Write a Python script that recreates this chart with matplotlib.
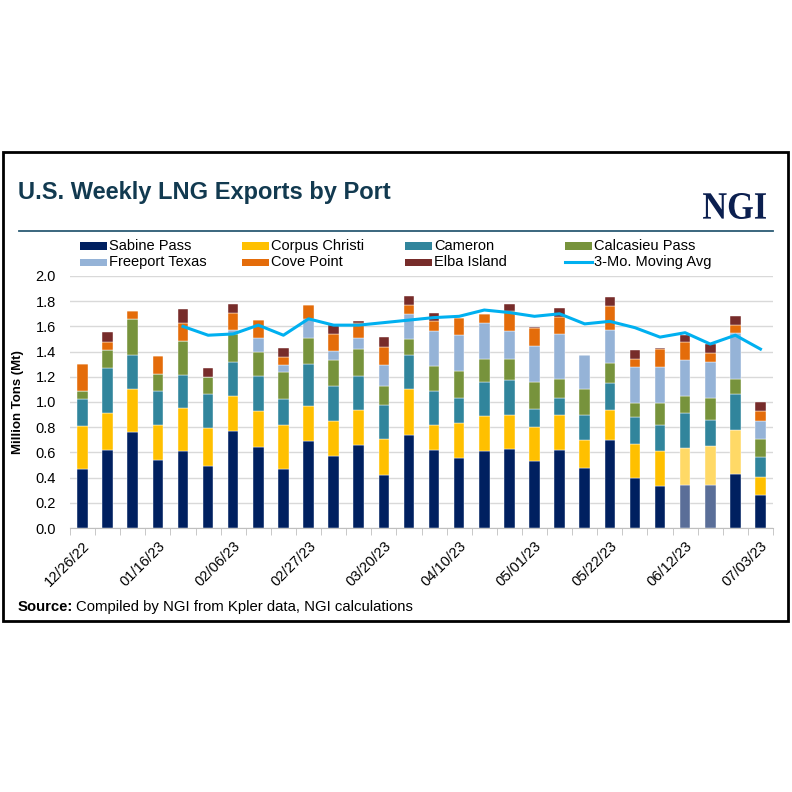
import matplotlib
import matplotlib.pyplot as plt
import numpy as np
import pandas as pd
from matplotlib.patches import Rectangle, PathPatch
from matplotlib.lines import Line2D
from matplotlib.textpath import TextPath
from matplotlib.font_manager import FontProperties
from matplotlib.transforms import Affine2D

matplotlib.use("Agg")
plt.rcParams["font.family"] = ["Liberation Sans", "DejaVu Sans"]

# weekly exports by port, million tons
weeks = pd.date_range("2022-12-26", periods=28, freq="7D")
week_labels = [d.strftime("%m/%d/%y") for d in weeks]

sabine = [0.47, 0.62, 0.76, 0.54, 0.61, 0.49, 0.77, 0.64, 0.47, 0.69, 0.57, 0.66, 0.42, 0.74,
          0.62, 0.555, 0.61, 0.63, 0.53, 0.62, 0.48, 0.70, 0.40, 0.33, 0.345, 0.345, 0.43, 0.265]
corpus = [0.34, 0.29, 0.345, 0.28, 0.34, 0.30, 0.28, 0.29, 0.35, 0.28, 0.28, 0.28, 0.29, 0.36,
          0.20, 0.28, 0.28, 0.265, 0.275, 0.275, 0.215, 0.24, 0.265, 0.28, 0.29, 0.305, 0.345, 0.14]
cameron = [0.215, 0.36, 0.265, 0.265, 0.265, 0.27, 0.27, 0.28, 0.205, 0.335, 0.275, 0.27, 0.27, 0.27,
           0.265, 0.20, 0.265, 0.28, 0.14, 0.135, 0.20, 0.21, 0.215, 0.21, 0.28, 0.21, 0.29, 0.155]
calcasieu = [0.065, 0.145, 0.29, 0.135, 0.27, 0.14, 0.22, 0.185, 0.21, 0.205, 0.21, 0.21, 0.145, 0.13,
             0.20, 0.21, 0.185, 0.17, 0.21, 0.155, 0.21, 0.16, 0.115, 0.175, 0.135, 0.175, 0.115, 0.145]
freeport = [0, 0, 0, 0, 0, 0, 0.035, 0.115, 0.06, 0.15, 0.07, 0.09, 0.17, 0.20,
            0.28, 0.285, 0.29, 0.22, 0.29, 0.355, 0.27, 0.265, 0.28, 0.28, 0.28, 0.285, 0.365, 0.145]
cove = [0.215, 0.065, 0.065, 0.145, 0.14, 0, 0.13, 0.14, 0.065, 0.11, 0.135, 0.12, 0.145, 0.07,
        0.075, 0.135, 0.07, 0.155, 0.14, 0.135, 0, 0.19, 0.07, 0.145, 0.145, 0.07, 0.07, 0.075]
elba = [0, 0.075, 0, 0, 0.11, 0.07, 0.075, 0, 0.065, 0, 0.075, 0.01, 0.075, 0.07,
        0.07, 0, 0, 0.06, 0.01, 0.07, 0, 0.07, 0.065, 0.01, 0.055, 0.07, 0.07, 0.075]
moving_avg = [np.nan, np.nan, np.nan, np.nan, 1.60, 1.53, 1.54, 1.61, 1.53, 1.66, 1.61, 1.61, 1.63, 1.65,
              1.67, 1.68, 1.73, 1.71, 1.68, 1.70, 1.62, 1.64, 1.59, 1.515, 1.55, 1.46, 1.53, 1.42]

SERIES = [
    ("Sabine Pass", sabine, "#002060"),
    ("Corpus Christi", corpus, "#FFC000"),
    ("Cameron", cameron, "#31859C"),
    ("Calcasieu Pass", calcasieu, "#77933C"),
    ("Freeport Texas", freeport, "#95B3D7"),
    ("Cove Point", cove, "#E46C0A"),
    ("Elba Island", elba, "#772C2A"),
]
# lighter shades used for the most recent (preliminary) weeks
FADED = {
    "Sabine Pass": ([24, 25], "#5A6E98"),
    "Corpus Christi": ([24, 25, 26], "#FFD966"),
}
MA_COLOR = "#00B0F0"
W, H = 792, 792


def fx(px):
    return px / W


def fy(py):
    return 1 - py / H


fig = plt.figure(figsize=(W / 100, H / 100), dpi=100)
fig.patch.set_facecolor("white")

# outer frame
fig.patches.append(Rectangle((fx(3), fy(621)), fx(785), 469 / H, transform=fig.transFigure,
                             fill=False, edgecolor="black", linewidth=2))

fig.text(fx(18), fy(192), "U.S. Weekly LNG Exports by Port", fontsize=17, fontweight="bold",
         color="#123A50", va="center", ha="left")

# NGI wordmark: condensed serif, fitted into its box
tp = TextPath((0, 0), "NGI", size=10, prop=FontProperties(family="Liberation Serif", weight="bold"))
ext = tp.get_extents()
x0, x1, y0, y1 = 703, 766, 193, 219
tr = (Affine2D().translate(-ext.x0, -ext.y0)
      .scale(fx(x1 - x0) / ext.width, ((y1 - y0) / H) / ext.height)
      .translate(fx(x0), fy(y1)))
fig.patches.append(PathPatch(tr.transform_path(tp), transform=fig.transFigure,
                             facecolor="#0B1F4F", edgecolor="none"))
fig.add_artist(Line2D([fx(19), fx(773)], [fy(231), fy(231)], transform=fig.transFigure,
                      color="#2B5B74", linewidth=1.3))

ax = fig.add_axes([fx(70), fy(528), fx(703), 252 / H])
x = np.arange(len(week_labels))
bottom = np.zeros(len(x))
for name, vals, color in SERIES:
    vals = np.array(vals)
    colors = [color] * len(x)
    if name in FADED:
        idx, fcol = FADED[name]
        for i in idx:
            colors[i] = fcol
    ax.bar(x, vals, 0.42, bottom=bottom, color=colors, edgecolor="white", linewidth=0.3, zorder=3)
    bottom += vals
ax.plot(x, moving_avg, color=MA_COLOR, linewidth=2.2, zorder=4)

ax.set_xlim(-0.5, len(x) - 0.5)
ax.set_ylim(0, 2.0)
ax.set_yticks(np.arange(0, 2.01, 0.2))
ax.set_yticklabels([f"{v:.1f}" for v in np.arange(0, 2.01, 0.2)], fontsize=10.5)
ax.yaxis.grid(True, color="#D9D9D9", linewidth=1, zorder=0)
ax.tick_params(axis="y", length=0, pad=10)
ax.set_xticks(x[::3])
ax.set_xticklabels(week_labels[::3], rotation=45, ha="right", va="top",
                   rotation_mode="anchor", fontsize=10.5)
ax.set_xticks(np.arange(-0.5, len(x), 1), minor=True)
ax.tick_params(axis="x", which="major", length=0, pad=8)
ax.tick_params(axis="x", which="minor", length=5, color="#BFBFBF")
for s in ["left", "right", "top"]:
    ax.spines[s].set_visible(False)
ax.spines["bottom"].set_color("#BFBFBF")
ax.set_ylabel("Million Tons (Mt)", fontsize=9.5, fontweight="bold", labelpad=8)

# legend laid out on a fixed grid like the original
col_x = [80, 242, 405, 565]
row_y = [246, 262]
items = [(n, c) for n, _, c in SERIES] + [("3-Mo. Moving Avg", MA_COLOR)]
for i, (name, color) in enumerate(items):
    px, py = col_x[i % 4], row_y[i // 4]
    if name == "3-Mo. Moving Avg":
        fig.add_artist(Line2D([fx(px), fx(px + 27)], [fy(py), fy(py)], transform=fig.transFigure,
                              color=color, linewidth=2.2))
    else:
        fig.patches.append(Rectangle((fx(px), fy(py + 3.5)), fx(27), 7 / H, transform=fig.transFigure,
                                     facecolor=color, edgecolor="none"))
    fig.text(fx(px + 29), fy(py), name, fontsize=10.5, va="center", ha="left")

src = fig.text(fx(18), fy(607), "Source:", fontsize=10.7, fontweight="bold", va="center", ha="left")
renderer = fig.canvas.get_renderer()
bb = src.get_window_extent(renderer)
fig.text(bb.x1 / W + fx(3), fy(607), "Compiled by NGI from Kpler data, NGI calculations",
         fontsize=10.7, va="center", ha="left")

fig.savefig("out.png", dpi=100, facecolor="white")
